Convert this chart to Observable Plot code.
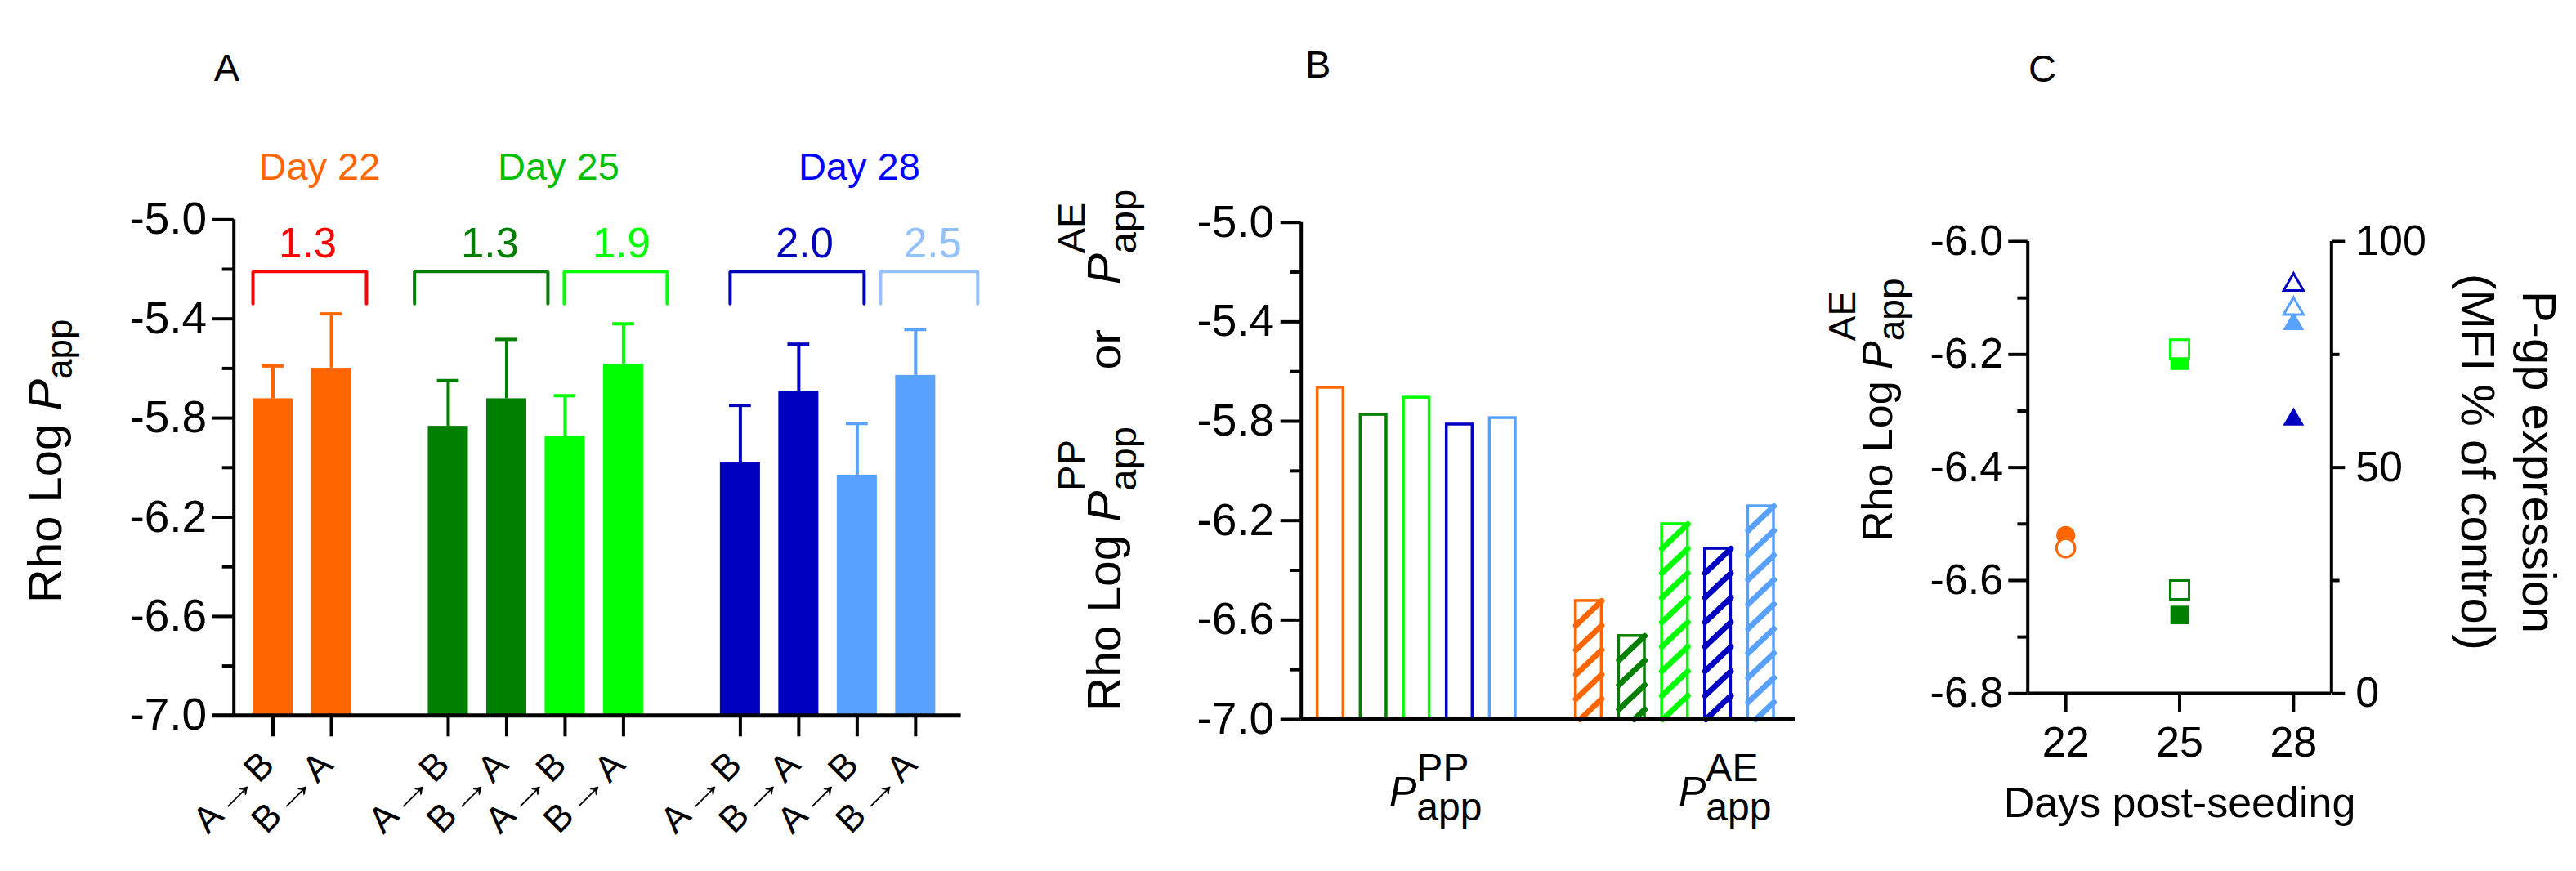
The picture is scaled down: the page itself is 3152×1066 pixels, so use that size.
<!DOCTYPE html>
<html>
<head>
<meta charset="utf-8">
<script src="https://cdn.jsdelivr.net/npm/d3@7"></script>
<script src="https://cdn.jsdelivr.net/npm/@observablehq/plot@0.6"></script>
<style>
  html, body { margin: 0; padding: 0; background: #fff; }
  #fig { position: relative; width: 3152px; height: 1066px; background: #fff; }
  #fig svg { position: absolute; top: 0; }
</style>
</head>
<body>
<div id="fig"></div>
<script>
const FONT = '"Liberation Sans", Arial, Helvetica, sans-serif';

// ---------- data: panel A (Rho log Papp per direction) ----------
const directions = ["A→B", "B→A", "A→B", "B→A", "A→B", "B→A", "A→B", "B→A", "A→B", "B→A"];
const slotsA = [0, 1, 3, 4, 5, 6, 8, 9, 10, 11];
const meansA = [-5.722, -5.599, -5.833, -5.722, -5.873, -5.582, -5.981, -5.691, -6.030, -5.628];
const sdA = [0.132, 0.219, 0.184, 0.239, 0.163, 0.162, 0.232, 0.189, 0.208, 0.185];
const colorsA = ["#FF6600", "#FF6600", "#008000", "#008000", "#00FF00", "#00FF00", "#0000C0", "#0000C0", "#59A1FF", "#59A1FF"];
const ratios = ["1.3", "1.3", "1.9", "2.0", "2.5"];
const ratioColors = ["#FF0000", "#007F00", "#00FF00", "#0000BB", "#94C1F8"];
const dayNames = ["Day 22", "Day 25", "Day 28"];
const dayColors = ["#FF6600", "#00BF00", "#0000FF"];
const majorTicksA = [-7.0, -6.6, -6.2, -5.8, -5.4, -5.0];
const minorTicksA = [-6.8, -6.4, -6.0, -5.6, -5.2];

// ---------- data: panel B (PP vs AE) ----------
const groupsB = ["Day 22", "Day 25 a", "Day 25 b", "Day 28 a", "Day 28 b"];
const colorsB = ["#FF6600", "#008000", "#00FF00", "#0000C0", "#59A1FF"];
const ppValues = [-5.665, -5.774, -5.705, -5.813, -5.787];
const aeValues = [-6.523, -6.664, -6.214, -6.313, -6.142];

// ---------- data: panel C (vs days) ----------
const daysC = [22, 25, 25, 28, 28];
const aeC = [-6.520, -6.661, -6.211, -6.315, -6.146];
const pgpC = [32.2, 22.9, 76.2, 90.4, 85.1];
const symbolsC = ["circle", "square", "square", "triangle", "triangle"];
const colorsC = ["#FF6600", "#008000", "#00FF00", "#0000C0", "#59A1FF"];

// ---------- layout ----------
const H = 1066;
const LA = {x: 0, w: 1250, left: 285.7, right: 1175.6, top: 268.3, bottom: 875.3, xdom: [-0.669, 11.78]};
const bracketX1 = [-0.343, 2.422, 4.986, 7.825, 10.399];
const bracketX2 = [1.601, 4.706, 6.748, 10.119, 12.063];
const ratioTextX = [0.594, 3.713, 5.965, 9.098, 11.294];
const dayTextX = [0.796, 4.888, 10.035];
const LB = {x: 1250, w: 1000, left: 1591.7, right: 2196, top: 271.7, bottom: 880, xdom: [-0.679, 10.793]};
const LC = {x: 2200, w: 952, left: 2480.7, right: 2852.3, top: 295, bottom: 848.3};

const fig = d3.select("#fig");
function place(svg, L) {
  d3.select(svg).style("left", L.x + "px");
  fig.node().appendChild(svg);
  return svg;
}
function margins(L) {
  return {width: L.w, height: H, marginLeft: L.left - L.x, marginRight: L.x + L.w - L.right,
    marginTop: L.top, marginBottom: H - L.bottom};
}
const style = {fontFamily: FONT, background: "transparent", overflow: "visible", color: "black"};

// text with stacked sub/superscripts
function richLabel(svg, {x, y, rotate = 0, runs}) {
  const g = d3.select(svg).append("g")
    .attr("transform", `translate(${x},${y}) rotate(${rotate})`)
    .attr("font-family", FONT).attr("fill", "black").attr("text-anchor", "start");
  let cx = 0, lastX = 0;
  for (const r of runs) {
    const x0 = r.stack ? lastX : cx + (r.gap || 0);
    const t = g.append("text").attr("x", x0).attr("y", r.shift || 0)
      .attr("font-size", r.size).attr("font-style", r.italic ? "italic" : null)
      .style("white-space", "pre").text(r.t);
    const w = t.node().getComputedTextLength();
    lastX = x0;
    cx = Math.max(cx, x0 + w);
  }
  return g;
}
function plainText(svg, t, {x, y, size, rotate = 0, anchor = "middle"}) {
  d3.select(svg).append("text")
    .attr("transform", `translate(${x},${y}) rotate(${rotate})`)
    .attr("text-anchor", anchor).attr("font-family", FONT).attr("font-size", size)
    .attr("fill", "black").text(t);
}

// ================= Panel A =================
const pxPerYA = (LA.bottom - LA.top) / 2;
const pxPerXA = (LA.right - LA.left) / (LA.xdom[1] - LA.xdom[0]);
const barsA = directions.map((dir, i) => ({dir, slot: slotsA[i], mean: meansA[i], hi: meansA[i] + sdA[i], color: colorsA[i]}));
const bracketsA = ratios.map((label, i) => ({label, color: ratioColors[i], tx: ratioTextX[i]}));
const yBrTop = -5.209, yBrLow = -5.339;
const bracketPts = bracketsA.flatMap((b, i) => [
  {x: bracketX1[i], y: yBrLow}, {x: bracketX1[i], y: yBrTop},
  {x: bracketX2[i], y: yBrTop}, {x: bracketX2[i], y: yBrLow}
].map(p => ({...p, i, color: b.color})));
const dayData = dayNames.map((label, i) => ({label, color: dayColors[i], x: dayTextX[i]}));
// rotated tick labels end just below each tick
const labelOffX = 4 / pxPerXA, labelY = -7 - 62.7 / pxPerYA;

const plotA = Plot.plot({
  ...margins(LA), style,
  x: {domain: LA.xdom},
  y: {domain: [-7, -5]},
  color: {type: "identity"},
  marks: [
    Plot.rectY(barsA, {x1: d => d.slot - 0.343, x2: d => d.slot + 0.343, y1: -7, y2: "mean", fill: "color"}),
    Plot.ruleX(barsA, {x: "slot", y1: "mean", y2: "hi", stroke: "color", strokeWidth: 4}),
    Plot.ruleY(barsA, {y: "hi", x1: d => d.slot - 0.187, x2: d => d.slot + 0.187, stroke: "color", strokeWidth: 4}),
    Plot.line(bracketPts, {x: "x", y: "y", z: "i", stroke: "color", strokeWidth: 4, strokeLinejoin: "miter", strokeLinecap: "round"}),
    Plot.text(bracketsA, {x: "tx", y: -5.1506, text: "label", fill: "color", fontSize: 51, lineAnchor: "bottom"}),
    Plot.text(dayData, {x: "x", y: -4.8386, text: "label", fill: "color", fontSize: 47, lineAnchor: "bottom"}),
    Plot.axisY({ticks: majorTicksA, tickSize: 26, tickPadding: 7, tickFormat: d => d.toFixed(1), fontSize: 55, strokeWidth: 4, label: null}),
    Plot.axisY({ticks: minorTicksA, tickSize: 14, fill: "none", strokeWidth: 4, label: null}),
    Plot.axisX({ticks: slotsA, tickSize: 26, fill: "none", strokeWidth: 4, label: null}),
    Plot.text(barsA, {x: d => d.slot + labelOffX, y: labelY, text: "dir", rotate: -45, textAnchor: "end", lineAnchor: "bottom", fontSize: 45}),
    Plot.ruleX([LA.xdom[0]], {y1: -7, y2: -5, strokeWidth: 4}),
    Plot.ruleY([-7], {strokeWidth: 5, insetLeft: -26})
  ]
});
place(plotA, LA);
// the arrow in the direction labels is drawn long and thin, as in the original
d3.select(plotA).selectAll("text").filter(function() { return this.textContent.includes("→"); })
  .each(function() {
    const [a, b] = this.textContent.split("→");
    const s = d3.select(this).text(null);
    s.append("tspan").text(a);
    s.append("tspan").attr("textLength", 58).attr("lengthAdjust", "spacingAndGlyphs").text("→");
    s.append("tspan").text(b);
  });
plainText(plotA, "A", {x: 277.5, y: 98.6, size: 47});
richLabel(plotA, {x: 74.6, y: 738, rotate: -90, runs: [
  {t: "Rho Log ", size: 58}, {t: "P", size: 58, italic: true}, {t: "app", size: 44, shift: 13}
]});

// ================= Panel B =================
const barsPP = groupsB.map((g, i) => ({g, slot: i, value: ppValues[i], color: colorsB[i]}));
const barsAE = groupsB.map((g, i) => ({g, slot: i + 6, value: aeValues[i], color: colorsB[i]}));
const halfW = 0.3;
const pxPerY = (LB.bottom - LB.top) / 2;
const step = 30 / pxPerY;
const hatch = barsAE.flatMap(b => {
  const segs = [];
  for (let k = 0; ; k++) {
    const yR = b.value - k * step;
    if (yR <= -7) break;
    let yL = yR - step, xL = b.slot - halfW;
    if (yL < -7) {
      const f = (yR + 7) / step;
      yL = -7;
      xL = b.slot + halfW - 2 * halfW * f;
    }
    segs.push({x1: xL, y1: yL, x2: b.slot + halfW, y2: yR, color: b.color});
  }
  return segs;
});

const plotB = Plot.plot({
  ...margins(LB), style,
  x: {domain: LB.xdom, axis: null},
  y: {domain: [-7, -5]},
  color: {type: "identity"},
  marks: [
    Plot.rect(barsPP, {x1: d => d.slot - halfW, x2: d => d.slot + halfW, y1: -7, y2: "value", fill: "white", stroke: "color", strokeWidth: 3.5}),
    Plot.rect(barsAE, {x1: d => d.slot - halfW, x2: d => d.slot + halfW, y1: -7, y2: "value", fill: "white", stroke: "color", strokeWidth: 3.5}),
    Plot.link(hatch, {x1: "x1", y1: "y1", x2: "x2", y2: "y2", stroke: "color", strokeWidth: 7, strokeLinecap: "round"}),
    Plot.axisY({ticks: majorTicksA, tickSize: 25, tickPadding: 8, tickFormat: d => d.toFixed(1), fontSize: 55, strokeWidth: 4, label: null}),
    Plot.axisY({ticks: minorTicksA, tickSize: 12.7, fill: "none", strokeWidth: 4, label: null}),
    Plot.ruleX([LB.xdom[0]], {y1: -7, y2: -5, strokeWidth: 4}),
    Plot.ruleY([-7], {strokeWidth: 5})
  ]
});
place(plotB, LB);
plainText(plotB, "B", {x: 1612.7 - LB.x, y: 95, size: 47});
richLabel(plotB, {x: 1371 - LB.x, y: 870, rotate: -90, runs: [
  {t: "Rho Log ", size: 57}, {t: "P", size: 57, italic: true},
  {t: "app", size: 47, shift: 19}, {t: "PP", size: 47, shift: -44, stack: true},
  {t: "or", size: 55, gap: 70},
  {t: "P", size: 57, italic: true, gap: 55},
  {t: "app", size: 47, shift: 19}, {t: "AE", size: 47, shift: -44, stack: true}
]});
for (const [x0, sup] of [[1700, "PP"], [2054, "AE"]]) {
  richLabel(plotB, {x: x0 - LB.x, y: 986, runs: [
    {t: "P", size: 50, italic: true}, {t: "app", size: 48, shift: 18}, {t: sup, size: 48, shift: -30, stack: true}
  ]});
}

// ================= Panel C =================
const ptsC = daysC.map((day, i) => ({day, ae: aeC[i], pgp: pgpC[i], sym: symbolsC[i], color: colorsC[i]}));
const radius = {circle: 11.5, square: 12.8, triangle: 9.6};
const radiusOpen = {circle: 11.3, square: 13, triangle: 9};

const plotC1 = Plot.plot({
  ...margins(LC), style,
  x: {domain: [21, 29]},
  y: {domain: [-6.8, -6.0]},
  color: {type: "identity"},
  marks: [
    ...["circle", "square", "triangle"].map(s => Plot.dot(ptsC, {filter: d => d.sym === s, x: "day", y: "ae", symbol: s, r: radius[s], fill: "color", stroke: null})),
    Plot.axisY({ticks: [-6.8, -6.6, -6.4, -6.2, -6.0], tickSize: 23.4, tickPadding: 6.6, tickFormat: d => d.toFixed(1), fontSize: 52, strokeWidth: 4, label: null}),
    Plot.axisY({ticks: [-6.7, -6.5, -6.3, -6.1], tickSize: 12.3, fill: "none", strokeWidth: 4, label: null}),
    Plot.axisX({ticks: [22, 25, 28], tickSize: 23, tickPadding: 17.4, fontSize: 52, strokeWidth: 4, label: null}),
    Plot.ruleX([21], {y1: -6.8, y2: -6.0, strokeWidth: 4}),
    Plot.ruleY([-6.8], {strokeWidth: 4.5}),
    Plot.text(["Days post-seeding"], {frameAnchor: "bottom", text: d => d, textAnchor: "middle", lineAnchor: "top", dy: 114.4, fontSize: 52})
  ]
});
place(plotC1, LC);
plainText(plotC1, "C", {x: 2499 - LC.x, y: 100, size: 47});
richLabel(plotC1, {x: 2315 - LC.x, y: 663, rotate: -90, runs: [
  {t: "Rho Log ", size: 52}, {t: "P", size: 52, italic: true},
  {t: "app", size: 46, shift: 15}, {t: "AE", size: 46, shift: -45, stack: true}
]});

const plotC2 = Plot.plot({
  ...margins(LC), style,
  x: {domain: [21, 29], axis: null},
  y: {domain: [0, 100]},
  color: {type: "identity"},
  marks: [
    ...["circle", "square", "triangle"].map(s => Plot.dot(ptsC, {filter: d => d.sym === s, x: "day", y: "pgp", symbol: s, r: radiusOpen[s], fill: "white", stroke: "color", strokeWidth: 3})),
    Plot.axisY({anchor: "right", ticks: [0, 50, 100], tickSize: 16, tickPadding: 13.4, fontSize: 52, strokeWidth: 4, label: null}),
    Plot.axisY({anchor: "right", ticks: [25, 75], tickSize: 9.3, fill: "none", strokeWidth: 4, label: null}),
    Plot.ruleX([29], {y1: 0, y2: 100, strokeWidth: 4})
  ]
});
place(plotC2, LC);
plainText(plotC2, "P-gp expression", {x: 3087 - LC.x, y: 565.5, size: 58, rotate: 90});
plainText(plotC2, "(MFI % of control)", {x: 3012 - LC.x, y: 565.5, size: 58, rotate: 90});
</script>
</body>
</html>
